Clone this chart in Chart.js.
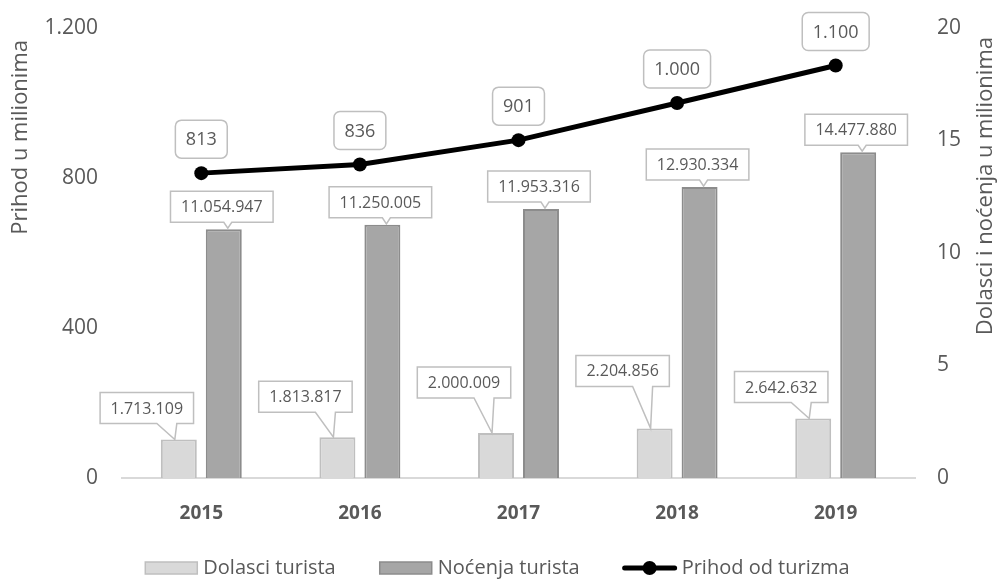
<!DOCTYPE html>
<html>
<head>
<meta charset="utf-8">
<script src="https://cdn.jsdelivr.net/npm/chart.js@4"></script>
<style>
  html, body { margin: 0; padding: 0; background: #fff; }
  #wrap { width: 999px; height: 579px; }
</style>
</head>
<body>
<div id="wrap"><canvas id="chart" width="999" height="579"></canvas></div>
<script>
var years = ['2015', '2016', '2017', '2018', '2019'];
var arrivals = [1713109, 1813817, 2000009, 2204856, 2642632];
var nights = [11054947, 11250005, 11953316, 12930334, 14477880];
var revenue = [813, 836, 901, 1000, 1100];
var leftTicks = [0, 400, 800, 1200];
var rightTicks = [0, 5, 10, 15, 20];   // millions

// how far each "Dolasci" callout box sits above its bar (layout only)
var arrivalLift = [16, 25, 35, 42, 16];

var textColor = '#595959';
var boxLine = '#bfbfbf';
var fontFam = '"Open Sans", sans-serif';

function fmt(n) {
  return String(n).replace(/\B(?=(\d{3})+(?!\d))/g, '.');
}

function callout(c, cx, top, w, h, b1, b2, tipX, tipY, radius) {
  var l = cx - w / 2, r = cx + w / 2, bot = top + h;
  c.beginPath();
  if (radius) {
    c.roundRect(l, top, w, h, radius);
  } else {
    c.moveTo(l, top);
    c.lineTo(r, top);
    c.lineTo(r, bot);
    if (tipX !== null) {
      c.lineTo(b2, bot);
      c.lineTo(tipX, tipY);
      c.lineTo(b1, bot);
    }
    c.lineTo(l, bot);
    c.closePath();
  }
  c.fillStyle = '#fff';
  c.fill();
  c.lineWidth = 1.5;
  c.strokeStyle = boxLine;
  c.stroke();
}

/* data labels drawn as Excel-style callouts */
var calloutPlugin = {
  id: 'callouts',
  afterDatasetsDraw: function(chart) {
    var c = chart.ctx;
    c.save();
    c.textAlign = 'center';
    c.textBaseline = 'middle';

    // arrivals (light bars)
    c.font = '16px ' + fontFam;
    chart.getDatasetMeta(1).data.forEach(function(bar, i) {
      var txt = fmt(arrivals[i]);
      var w = c.measureText(txt).width + 21;
      var h = 31;
      var cx = bar.x - 32;
      var bot = bar.y - arrivalLift[i];
      callout(c, cx, bot - h, w, h, cx + 10, cx + 30, bar.x - 4, bar.y, 0);
      c.fillStyle = textColor;
      c.fillText(txt, cx, bot - h / 2 + 1);
    });

    // nights (dark bars)
    chart.getDatasetMeta(2).data.forEach(function(bar, i) {
      var txt = fmt(nights[i]);
      var w = c.measureText(txt).width + 21;
      var h = 31;
      var cx = bar.x - 2;
      var bot = bar.y - 7;
      callout(c, cx, bot - h, w, h, cx + 2, cx + 10, bar.x + 4, bar.y - 1, 0);
      c.fillStyle = textColor;
      c.fillText(txt, cx, bot - h / 2 + 1);
    });

    // revenue (line points)
    c.font = '18px ' + fontFam;
    chart.getDatasetMeta(0).data.forEach(function(pt, i) {
      var txt = fmt(revenue[i]);
      var w = c.measureText(txt).width + 21;
      var h = 38;
      var bot = pt.y - 15;
      callout(c, pt.x, bot - h, w, h, 0, 0, null, null, 6);
      c.fillStyle = textColor;
      c.fillText(txt, pt.x, bot - h / 2 + 1);
    });
    c.restore();
  }
};

/* axis titles and bottom legend */
var framePlugin = {
  id: 'frame',
  afterDraw: function(chart) {
    var c = chart.ctx;
    c.save();
    c.fillStyle = textColor;
    c.font = '22px ' + fontFam;
    c.textBaseline = 'middle';
    c.textAlign = 'right';

    c.save();
    c.translate(21, 40);
    c.rotate(-Math.PI / 2);
    c.fillText('Prihod u milionima', 0, 0);
    c.restore();

    c.save();
    c.translate(986, 37);
    c.rotate(-Math.PI / 2);
    c.fillText('Dolasci i noćenja u milionima', 0, 0);
    c.restore();

    // legend
    c.font = '20px ' + fontFam;
    c.textAlign = 'left';
    var items = [
      { text: chart.data.datasets[1].label, kind: 'box', fill: '#d9d9d9', line: '#bfbfbf' },
      { text: chart.data.datasets[2].label, kind: 'box', fill: '#a6a6a6', line: '#8c8c8c' },
      { text: chart.data.datasets[0].label, kind: 'line' }
    ];
    var sym = 54, gapTxt = 5, gapItem = 43, y = 568;
    var total = 0;
    items.forEach(function(it, i) {
      it.w = c.measureText(it.text).width;
      total += sym + gapTxt + it.w + (i < items.length - 1 ? gapItem : 0);
    });
    var x = 497 - total / 2;
    items.forEach(function(it) {
      if (it.kind === 'box') {
        c.fillStyle = it.fill;
        c.fillRect(x + 1, y - 6, sym - 2, 12);
        c.strokeStyle = it.line;
        c.lineWidth = 1.5;
        c.strokeRect(x + 1, y - 6, sym - 2, 12);
      } else {
        c.strokeStyle = '#000';
        c.lineWidth = 5;
        c.lineCap = 'round';
        c.beginPath();
        c.moveTo(x + 2, y);
        c.lineTo(x + sym - 2, y);
        c.stroke();
        c.fillStyle = '#000';
        c.beginPath();
        c.arc(x + sym / 2, y, 7, 0, Math.PI * 2);
        c.fill();
      }
      c.fillStyle = textColor;
      c.fillText(it.text, x + sym + gapTxt, y);
      x += sym + gapTxt + it.w + gapItem;
    });
    c.restore();
  }
};

function trimPadding(axis, width) {
  axis.width = width;
  axis.paddingTop = 0;
  axis.paddingBottom = 0;
}

var ctx = document.getElementById('chart');

new Chart(ctx, {
  data: {
    labels: years,
    datasets: [
      {
        type: 'line',
        label: 'Prihod od turizma',
        data: revenue,
        yAxisID: 'y',
        borderColor: '#000',
        backgroundColor: '#000',
        borderWidth: 5,
        pointRadius: 7,
        pointBackgroundColor: '#000',
        pointBorderWidth: 0,
        tension: 0,
        order: 0
      },
      {
        type: 'bar',
        label: 'Dolasci turista',
        data: arrivals,
        yAxisID: 'y1',
        backgroundColor: '#d9d9d9',
        borderColor: '#bfbfbf',
        borderWidth: 2,
        categoryPercentage: 0.567,
        barPercentage: 0.8,
        order: 1
      },
      {
        type: 'bar',
        label: 'Noćenja turista',
        data: nights,
        yAxisID: 'y1',
        backgroundColor: '#a6a6a6',
        borderColor: '#8c8c8c',
        borderWidth: 2,
        categoryPercentage: 0.567,
        barPercentage: 0.8,
        order: 1
      }
    ]
  },
  options: {
    responsive: false,
    animation: false,
    layout: { padding: { top: 28, left: 0, right: 0, bottom: 0 } },
    plugins: {
      legend: { display: false },
      tooltip: { enabled: false }
    },
    scales: {
      x: {
        offset: true,
        grid: { display: false },
        border: { display: true, color: '#d9d9d9', width: 2 },
        ticks: {
          color: textColor,
          padding: 16,
          font: { size: 19, weight: 'bold', family: fontFam }
        },
        afterFit: function(axis) { axis.height = 101; }
      },
      y: {
        position: 'left',
        min: 0,
        max: 1200,
        grid: { display: false, drawTicks: false },
        border: { display: false },
        ticks: {
          color: textColor,
          padding: 24,
          font: { size: 21, family: fontFam },
          callback: function(v) { return fmt(v); }
        },
        afterBuildTicks: function(axis) {
          axis.ticks = leftTicks.map(function(v) { return { value: v }; });
        },
        afterFit: function(axis) { trimPadding(axis, 122); }
      },
      y1: {
        position: 'right',
        min: 0,
        max: 20000000,
        grid: { display: false, drawTicks: false },
        border: { display: false },
        ticks: {
          color: textColor,
          padding: 22,
          font: { size: 21, family: fontFam },
          callback: function(v) { return String(v / 1000000); }
        },
        afterBuildTicks: function(axis) {
          axis.ticks = rightTicks.map(function(v) { return { value: v * 1000000 }; });
        },
        afterFit: function(axis) { trimPadding(axis, 84); }
      }
    }
  },
  plugins: [calloutPlugin, framePlugin]
});
</script>
</body>
</html>
